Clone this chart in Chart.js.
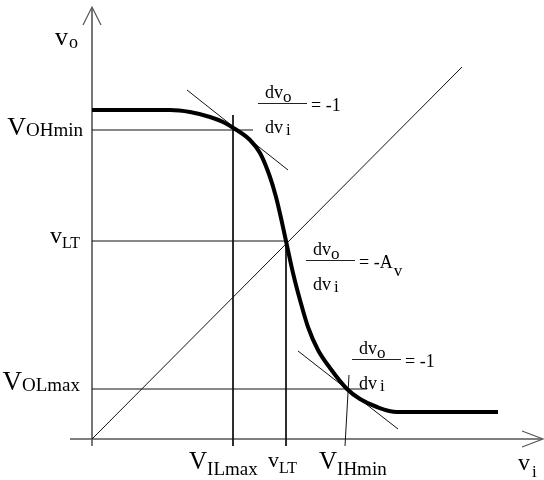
<!DOCTYPE html>
<html>
<head>
<meta charset="utf-8">
<script src="https://cdn.jsdelivr.net/npm/chart.js@4.4.1/dist/chart.umd.min.js"></script>
<style>
  html, body { margin: 0; padding: 0; background: #fff; }
  #vtc { display: block; }
</style>
</head>
<body>
<canvas id="vtc" width="544" height="480" style="width:544px;height:480px"></canvas>
<script>
// Inverter voltage transfer characteristic (vo against vi)
const curveVi = [0, 7.8, 9.8, 11.8, 13.1, 14.3, 15.8, 16.8, 17.8, 18.4, 18.9, 19.4, 20.1, 20.8, 21.6, 22.6, 23.8, 25.5, 26.8, 28.5, 30.5, 40.6];
const curveVo = [32.9, 32.9, 32.7, 32.2, 31.7, 31.0, 29.9, 28.6, 26.2, 24.2, 22.1, 19.8, 16.6, 13.9, 11.2, 8.9, 7.1, 5.0, 4.0, 3.2, 2.7, 2.7];

// Output levels on the vo axis and how far their guide lines run in vi
const outputNames = ['OHmin', 'LT', 'OLmax'];
const outputLevels = [30.9, 19.8, 5.0];
const outputGuideEnd = [16.1, 19.4, 27.5];

// Input levels on the vi axis, guide tops (vo) and the guide's foot in vi
const inputNames = ['ILmax', 'LT', 'IHmin'];
const inputLevels = [14.1, 19.4, 25.7];
const inputGuideTop = [32.4, 19.8, 6.4];
const inputGuideFoot = [14.1, 19.4, 25.3];

// Unity-gain line vo = vi and the two slope -1 tangents
const unityVi = [0, 37.0];
const unityVo = [0, 37.2];
const tangentHighVi = [9.5, 19.6];
const tangentHighVo = [34.9, 26.9];
const tangentLowVi = [20.6, 30.6];
const tangentLowVo = [8.8, 1.0];

// Axis extents and arrow heads
const axisViRange = [-2.2, 45.0];
const axisVoRange = [-0.7, 43.1];
const arrowUpVi = [-0.9, 0, 0.9];
const arrowUpVo = [41.4, 43.2, 41.4];
const arrowRightVi = [43.0, 45.1, 43.0];
const arrowRightVo = [0.8, 0, -0.8];

const pts = (xs, ys) => xs.map((v, i) => ({ x: v, y: ys[i] }));

const thin = { borderColor: '#111', borderWidth: 1 };
const axisStyle = { borderColor: '#555', borderWidth: 1.6 };

const datasets = [
  { data: pts(curveVi, curveVo), borderColor: '#000', borderWidth: 4, cubicInterpolationMode: 'monotone' },
  { data: pts(tangentHighVi, tangentHighVo), ...thin },
  { data: pts(tangentLowVi, tangentLowVo), ...thin },
  { data: pts(unityVi, unityVo), ...thin }
];

outputLevels.forEach((lvl, i) => {
  datasets.push({ data: [{ x: 0, y: lvl }, { x: outputGuideEnd[i], y: lvl }], ...thin });
});
inputLevels.forEach((lvl, i) => {
  datasets.push({ data: [{ x: lvl, y: inputGuideTop[i] }, { x: inputGuideFoot[i], y: axisVoRange[0] }], ...thin });
});

datasets.push({ data: [{ x: 0, y: axisVoRange[0] }, { x: 0, y: axisVoRange[1] }], ...axisStyle });
datasets.push({ data: [{ x: axisViRange[0], y: 0 }, { x: axisViRange[1], y: 0 }], ...axisStyle });
datasets.push({ data: pts(arrowUpVi, arrowUpVo), ...axisStyle, borderWidth: 1.2 });
datasets.push({ data: pts(arrowRightVi, arrowRightVo), ...axisStyle, borderWidth: 1.2 });

const SERIF = '"Liberation Serif", "Times New Roman", Times, serif';

// main symbol with a subscript; align 'right' puts the right edge at px
function symbol(ctx, px, py, main, sub, o) {
  ctx.font = o.size + 'px ' + SERIF;
  const w1 = ctx.measureText(main).width;
  ctx.font = o.subSize + 'px ' + SERIF;
  const w2 = ctx.measureText(sub).width;
  const gap = o.gap || 0;
  const left = o.align === 'right' ? px - w1 - gap - w2 : px;
  ctx.font = o.size + 'px ' + SERIF;
  ctx.fillText(main, left, py);
  ctx.font = o.subSize + 'px ' + SERIF;
  ctx.fillText(sub, left + w1 + gap, py + o.drop);
  return left + w1 + gap + w2;
}

// dvo/dvi fraction with the right-hand side after the bar
function derivative(ctx, bx, by, rhs, rhsSub) {
  const barW = 49;
  ctx.strokeStyle = '#222';
  ctx.lineWidth = 1;
  ctx.beginPath();
  ctx.moveTo(bx, by + 0.5);
  ctx.lineTo(bx + barW, by + 0.5);
  ctx.stroke();
  symbol(ctx, bx + 7, by - 5, 'dv', 'o', { size: 18, subSize: 17, drop: 4 });
  symbol(ctx, bx + 7, by + 30, 'dv', 'i', { size: 18, subSize: 17, drop: 2, gap: 3 });
  const end = symbol(ctx, bx + barW + 4, by + 8, rhs, '', { size: 18, subSize: 17, drop: 0 });
  if (rhsSub) {
    ctx.font = '17px ' + SERIF;
    ctx.fillText(rhsSub, end + 1, by + 16);
  }
}

const labelPlugin = {
  id: 'vtcLabels',
  afterDatasetsDraw(chart) {
    const { ctx, scales: { x, y } } = chart;
    const x0 = x.getPixelForValue(0);
    const y0 = y.getPixelForValue(0);
    ctx.save();
    ctx.fillStyle = '#000';
    ctx.textBaseline = 'alphabetic';
    ctx.textAlign = 'left';

    // vo axis names
    const leftStyle = [
      { main: 'V', size: 26, subSize: 19, dx: -9, dy: 5, drop: 1 },
      { main: 'v', size: 24, subSize: 16, dx: -12, dy: 2, drop: 5 },
      { main: 'V', size: 27, subSize: 19, dx: -12, dy: 1, drop: 1 }
    ];
    outputLevels.forEach((lvl, i) => {
      const s = leftStyle[i];
      symbol(ctx, x0 + s.dx, y.getPixelForValue(lvl) + s.dy, s.main, outputNames[i],
        { size: s.size, subSize: s.subSize, drop: s.drop, align: 'right' });
    });

    // vi axis names
    const bottomStyle = [
      { main: 'V', size: 25, subSize: 19, dx: -44, drop: 6 },
      { main: 'v', size: 22, subSize: 16, dx: -18, drop: 6, dy: -2 },
      { main: 'V', size: 25, subSize: 19, dx: -26, drop: 6 }
    ];
    inputLevels.forEach((lvl, i) => {
      const s = bottomStyle[i];
      symbol(ctx, x.getPixelForValue(inputGuideFoot[i]) + s.dx, y0 + 30 + (s.dy || 0), s.main, inputNames[i],
        { size: s.size, subSize: s.subSize, drop: s.drop });
    });

    // axis titles
    symbol(ctx, x0 - 37, y.getPixelForValue(axisVoRange[1]) + 37, 'v', 'o', { size: 26, subSize: 18, drop: 3, gap: 1 });
    symbol(ctx, x.getPixelForValue(axisViRange[1]) - 24, y0 + 31, 'v', 'i', { size: 24, subSize: 17, drop: 7, gap: 2 });

    // slope annotations
    derivative(ctx, x.getPixelForValue(16.6), y.getPixelForValue(33.6), '= -1');
    derivative(ctx, x.getPixelForValue(21.4), y.getPixelForValue(17.9), '= -A', 'v');
    derivative(ctx, x.getPixelForValue(26.0), y.getPixelForValue(8.0), '= -1');
    ctx.restore();
  }
};

new Chart(document.getElementById('vtc'), {
  type: 'scatter',
  data: { datasets: datasets.map(d => ({ showLine: true, pointRadius: 0, pointHoverRadius: 0, fill: false, ...d })) },
  options: {
    responsive: false,
    devicePixelRatio: 1,
    animation: false,
    events: [],
    layout: { padding: 0 },
    scales: {
      x: { type: 'linear', min: -9.2, max: 45.2, display: false },
      y: { type: 'linear', min: -4.1, max: 43.9, display: false }
    },
    plugins: { legend: { display: false }, tooltip: { enabled: false } }
  },
  plugins: [labelPlugin]
});
</script>
</body>
</html>
